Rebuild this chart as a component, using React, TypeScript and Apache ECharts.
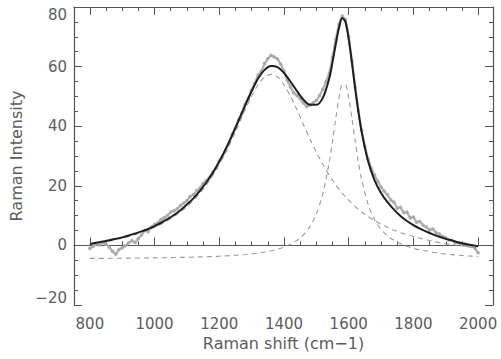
import React, { useEffect, useRef } from 'react';
import * as echarts from 'echarts';

// Fit / component curves
const ramanShift = [
  800, 820, 840, 860, 880, 900, 920, 940, 960, 980, 1000, 1020, 1040, 1060, 1080, 1100, 1120, 1140, 1160, 1180,
  1200, 1220, 1240, 1260, 1280, 1300, 1320, 1340, 1360, 1380, 1400, 1420, 1440, 1460, 1480, 1500, 1520,
  1540, 1550, 1560, 1570, 1580, 1590, 1600, 1610, 1620, 1630, 1640,
  1660, 1680, 1700, 1720, 1740, 1760, 1780, 1800, 1820, 1840, 1860, 1880, 1900, 1920, 1940, 1960, 1980, 2000,
];
const fitIntensity = [
  0.5, 0.9, 1.3, 1.7, 2.2, 2.7, 3.3, 4.0, 4.7, 5.5, 6.5, 7.6, 8.8, 10.2, 11.8, 13.7, 15.8, 18.3, 21.1, 24.4,
  28.2, 32.4, 37.0, 42.0, 47.0, 51.8, 56.0, 58.9, 60.2, 59.8, 57.9, 55.0, 51.8, 48.9, 47.2, 47.2, 49.5,
  56.1, 61.5, 67.5, 73.0, 76.3, 75.0, 69.3, 61.3, 52.7, 44.8, 38.1,
  28.2, 21.8, 17.6, 14.5, 12.0, 9.9, 8.2, 6.8, 5.6, 4.6, 3.7, 2.9, 2.2, 1.6, 1.0, 0.5, 0.1, -0.3,
];
const dBandIntensity = [
  0.3, 0.6, 1.0, 1.4, 1.9, 2.4, 3.0, 3.6, 4.3, 5.1, 6.1, 7.1, 8.3, 9.7, 11.2, 13.1, 15.1, 17.5, 20.3, 23.5,
  27.2, 31.3, 35.8, 40.6, 45.5, 50.1, 53.9, 56.5, 57.4, 56.5, 53.9, 50.1, 45.5, 40.6, 35.8, 31.3, 27.2,
  23.5, 21.9, 20.3, 18.9, 17.5, 16.3, 15.1, 14.1, 13.1, 12.1, 11.2,
  9.7, 8.3, 7.1, 6.1, 5.1, 4.3, 3.6, 3.0, 2.4, 1.9, 1.4, 1.0, 0.6, 0.3, 0.0, -0.3, -0.6, -0.8,
];
const gBandIntensity = [
  -4.36, -4.35, -4.34, -4.32, -4.3, -4.29, -4.27, -4.25, -4.22, -4.2, -4.17, -4.14, -4.11, -4.07, -4.03, -3.98, -3.93, -3.86, -3.79, -3.71,
  -3.62, -3.51, -3.39, -3.24, -3.06, -2.84, -2.57, -2.24, -1.82, -1.29, -0.58, 0.36, 1.67, 3.54, 6.3, 10.6, 17.3,
  28.0, 35.0, 42.6, 49.5, 53.8, 53.8, 49.5, 42.6, 35.0, 28.0, 22.1,
  13.8, 8.6, 5.4, 3.2, 1.7, 0.6, -0.3, -1.0, -1.5, -1.9, -2.3, -2.6, -2.9, -3.1, -3.3, -3.5, -3.6, -3.7,
];

// Measured spectrum
const measuredShift = [
  800, 810, 820, 830, 840, 850, 860, 870, 880, 890, 900, 910, 920, 930, 940, 950, 960, 970, 980, 990,
  1000, 1010, 1020, 1030, 1040, 1050, 1060, 1070, 1080, 1090, 1100, 1110, 1120, 1130, 1140, 1150, 1160, 1170, 1180, 1190,
  1200, 1210, 1220, 1230, 1240, 1250, 1260, 1270, 1280, 1290, 1300, 1310, 1320, 1330, 1340, 1350, 1360, 1370, 1380, 1390,
  1400, 1410, 1420, 1430, 1440, 1450, 1460, 1470, 1480, 1490, 1500, 1510, 1520, 1530, 1540, 1550, 1560, 1570, 1580, 1590,
  1600, 1610, 1620, 1630, 1640, 1650, 1660, 1670, 1680, 1690, 1700, 1710, 1720, 1730, 1740, 1750, 1760, 1770, 1780, 1790,
  1800, 1810, 1820, 1830, 1840, 1850, 1860, 1870, 1880, 1890, 1900, 1910, 1920, 1930, 1940, 1950, 1960, 1970, 1980, 1990,
  2000,
];
const measuredIntensity = [
  -1.0, -0.3, 0.6, 0.1, 1.0, 0.4, -0.6, -2.0, -3.0, -1.4, -0.8, -0.1, 0.9, 1.6, 1.0, 2.3, 3.6, 5.0, 4.6, 6.2,
  7.0, 7.6, 8.7, 9.3, 10.0, 11.2, 11.6, 12.3, 13.4, 14.2, 15.0, 16.4, 17.0, 18.4, 19.2, 20.8, 21.8, 22.9, 24.6, 25.9,
  28.3, 29.8, 32.0, 34.2, 37.4, 39.3, 42.2, 44.3, 47.4, 49.2, 52.1, 54.4, 57.2, 58.4, 61.0, 62.6, 63.8, 63.2, 62.6, 60.8,
  58.4, 55.4, 53.2, 51.2, 50.3, 49.2, 47.8, 46.6, 47.1, 47.9, 48.6, 50.3, 52.4, 55.0, 57.8, 63.2, 69.2, 74.2, 77.0, 75.8,
  70.0, 62.0, 53.2, 45.2, 38.6, 33.2, 29.0, 25.8, 23.6, 21.5, 19.6, 18.2, 17.0, 15.2, 14.5, 12.5, 12.8, 11.0, 11.2, 9.2,
  9.5, 7.8, 8.0, 6.8, 6.2, 5.2, 5.5, 4.2, 3.8, 3.0, 2.6, 1.8, 1.7, 1.0, 0.9, 0.3, 0.5, -0.2, -0.4, -0.9,
  -2.5,
];

const xMajorTicks = [800, 1000, 1200, 1400, 1600, 1800, 2000];
const xMinorTicks = [850, 900, 950, 1050, 1100, 1150, 1250, 1300, 1350, 1450, 1500, 1550, 1650, 1700, 1750, 1850, 1900, 1950];

const X_MIN = 751;
const X_MAX = 2046;
const FRAME = '#555';
const TEXT = '#5c5c5c';
const FONT = 'DejaVu Sans';

export default function App() {
  const ref = useRef<HTMLDivElement>(null);
  useEffect(() => {
    const chart = echarts.init(ref.current!, null, { renderer: 'svg' });
    const pairs = (xs: number[], ys: number[]) => xs.map((x, i) => [x, ys[i]]);
    const lineAxis = { show: true, lineStyle: { color: FRAME, width: 1.2 } };
    const xBase = (position: string, ticks: number[], len: number, showLine: boolean, labels: boolean) => ({
      type: 'value',
      position,
      min: X_MIN,
      max: X_MAX,
      gridIndex: 0,
      axisLine: showLine ? lineAxis : { show: false },
      axisTick: { show: true, inside: true, length: len, customValues: ticks, lineStyle: { color: FRAME, width: 1 } },
      axisLabel: labels
        ? {
            show: true,
            customValues: xMajorTicks,
            fontSize: 15,
            fontFamily: FONT,
            color: TEXT,
            margin: 11,
            formatter: (v: number) => String(v),
          }
        : { show: false },
      splitLine: { show: false },
    });
    const yBase = (position: string, labels: boolean) => ({
      type: 'value',
      position,
      min: -20,
      max: 80,
      interval: 20,
      axisLine: lineAxis,
      axisTick: { show: true, inside: true, length: 8, lineStyle: { color: FRAME, width: 1 } },
      minorTick: { show: true, splitNumber: 4, length: 4, lineStyle: { color: FRAME, width: 1 } },
      axisLabel: labels
        ? {
            show: true,
            fontSize: 15,
            fontFamily: FONT,
            color: TEXT,
            margin: 7,
            verticalAlignMaxLabel: 'top',
            verticalAlignMinLabel: 'bottom',
            formatter: (v: number) => (v < 0 ? '\u2212' + Math.abs(v) : String(v)),
          }
        : { show: false },
      splitLine: { show: false },
    });
    chart.setOption({
      animation: false,
      backgroundColor: '#ffffff',
      grid: { left: 70, right: 8, top: 7, bottom: 54 },
      xAxis: [
        {
          ...xBase('bottom', xMajorTicks, 8, true, true),
          name: 'Raman shift (cm\u22121)',
          nameLocation: 'middle',
          nameGap: 30,
          nameTextStyle: { fontSize: 16, fontFamily: FONT, color: TEXT },
        },
        xBase('bottom', xMinorTicks, 4, false, false),
        xBase('top', xMajorTicks, 8, true, false),
        xBase('top', xMinorTicks, 4, false, false),
      ],
      yAxis: [
        {
          ...yBase('left', true),
          name: 'Raman Intensity',
          nameLocation: 'middle',
          nameGap: 50,
          nameTextStyle: { fontSize: 16, fontFamily: FONT, color: TEXT },
        },
        yBase('right', false),
      ],
      series: [
        {
          name: 'measured',
          type: 'line',
          data: pairs(measuredShift, measuredIntensity),
          symbol: 'circle',
          symbolSize: 3.5,
          itemStyle: { color: '#aaaaaa' },
          lineStyle: { color: '#b0b0b0', width: 2.2 },
          z: 1,
        },
        {
          name: 'D band',
          type: 'line',
          data: pairs(ramanShift, dBandIntensity),
          smooth: 0.3,
          showSymbol: false,
          lineStyle: { color: '#9a9a9a', width: 1.1, type: [5, 4] },
          z: 2,
        },
        {
          name: 'G band',
          type: 'line',
          data: pairs(ramanShift, gBandIntensity),
          smooth: 0.3,
          showSymbol: false,
          lineStyle: { color: '#9a9a9a', width: 1.1, type: [5, 4] },
          z: 2,
        },
        {
          name: 'fit',
          type: 'line',
          data: pairs(ramanShift, fitIntensity),
          smooth: 0.3,
          showSymbol: false,
          lineStyle: { color: '#1e1e1e', width: 2 },
          z: 3,
        },
      ],
    });
    return () => chart.dispose();
  }, []);
  return <div ref={ref} style={{ position: 'fixed', left: 0, top: 0, width: 501, height: 359 }} />;
}
